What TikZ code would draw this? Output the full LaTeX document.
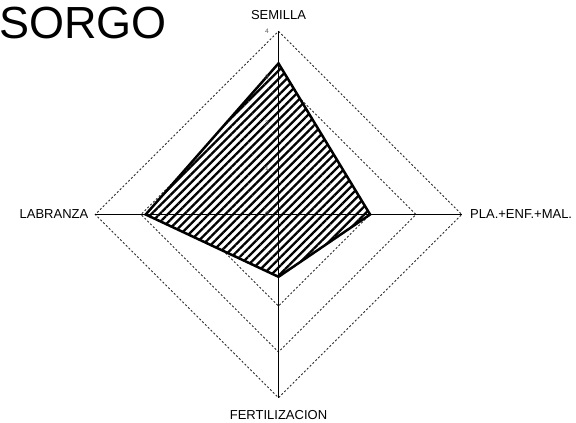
\documentclass[tikz,border=0pt]{standalone}
\usepackage{fontspec}
\setmainfont{Liberation Sans}
\usetikzlibrary{patterns.meta}
\begin{document}
\begin{tikzpicture}[x=1pt,y=-1pt,
  gridline/.style={draw=black!85,line width=0.9pt,dash pattern=on 2pt off 2pt},
  axisline/.style={draw=black,line width=0.8pt},
  datapoly/.style={draw=black,line width=2.5pt,line join=miter},
  axlabel/.style={inner sep=0pt,font=\fontsize{13}{15}\selectfont},
  ticklabel/.style={inner sep=0pt,anchor=east,text=black!65,font=\fontsize{6.5}{7}\selectfont},
  titlelabel/.style={inner sep=0pt,font=\fontsize{45}{50}\selectfont}]
\useasboundingbox (0,0) rectangle (576,423);
\coordinate (O) at (278.5,214.5);
\coordinate (N) at (278.5,31.3);
\coordinate (E) at (461.7,214.5);
\coordinate (S) at (278.5,397.7);
\coordinate (W) at (95.3,214.5);
% grid diamonds
\foreach \k in {1,2,3,4}{
  \draw[gridline] (278.5,214.5-\k*45.8) -- (278.5+\k*45.8,214.5) -- (278.5,214.5+\k*45.8) -- (278.5-\k*45.8,214.5) -- cycle;
}
% data points
\coordinate (pN) at (278.5,63.4);
\coordinate (pE) at (370.1,214.5);
\coordinate (pS) at (278.5,276.8);
\coordinate (pW) at (145.7,214.5);
\fill[white] (pN) -- (pE) -- (pS) -- (pW) -- cycle;
% axes
\draw[axisline] (O) -- (N);
\draw[axisline] (O) -- (E);
\draw[axisline] (O) -- (S);
\draw[axisline] (O) -- (W);
% hatch
\fill[pattern={Lines[angle=45,distance=5.8pt,line width=2.3pt]}] (pN) -- (pE) -- (pS) -- (pW) -- cycle;
\draw[datapoly] (pN) -- (pE) -- (pS) -- (pW) -- cycle;
% tick labels
\node[ticklabel] (t4) at (269,31.3) {4};
\node[ticklabel] (t3) at (269,77.1) {3};
\node[ticklabel] (t2) at (269,122.9) {2};
\node[ticklabel] (t1) at (269,168.7) {1};
\node[ticklabel] (t0) at (269,214.5) {0};
% axis labels
\node[axlabel] (lsem) at (278.5,15.5) {SEMILLA};
\node[axlabel,anchor=east] (llab) at (88.5,214.5) {LABRANZA};
\node[axlabel,anchor=west] (lpla) at (470,214.5) {PLA.+ENF.+MAL.};
\node[axlabel] (lfer) at (278.5,415) {FERTILIZACION};
\node[titlelabel,anchor=base west] (title) at (-1,38) {SORGO};
\end{tikzpicture}
\end{document}
